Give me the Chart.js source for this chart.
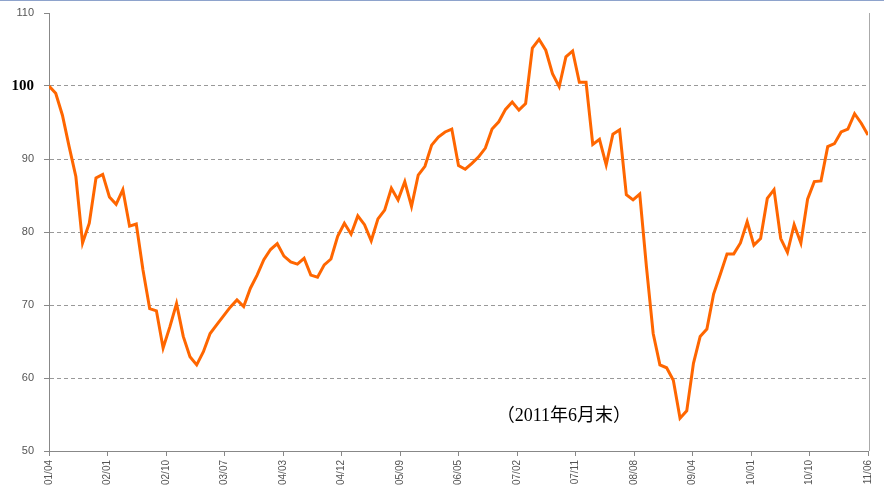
<!DOCTYPE html>
<html>
<head>
<meta charset="utf-8">
<script src="https://cdn.jsdelivr.net/npm/chart.js@4.4.1/dist/chart.umd.min.js"></script>
<style>
	body { margin: 0; background: #ffffff; }
	canvas { display: block; }
</style>
</head>
<body>
<canvas id="chart" width="884" height="492"></canvas>
<script>
// monthly index, 2001/04 = 100, through 2011/06
var indexValues = [
	100, 99.0, 96.0, 91.7, 87.6, 78.5, 81.2, 87.4, 87.9, 84.8,
	83.8, 85.8, 80.8, 81.1, 74.8, 69.5, 69.2, 64.1, 67.0, 70.2,
	65.7, 62.9, 61.8, 63.6, 66.1, 67.3, 68.5, 69.7, 70.7, 69.8,
	72.3, 74.1, 76.2, 77.6, 78.4, 76.7, 75.9, 75.6, 76.4, 74.1,
	73.8, 75.5, 76.3, 79.4, 81.2, 79.7, 82.2, 81.0, 78.8, 81.8,
	83.0, 86.0, 84.4, 86.9, 83.5, 87.8, 89.0, 91.9, 93.0, 93.7,
	94.1, 89.1, 88.6, 89.4, 90.3, 91.5, 94.1, 95.1, 96.8, 97.8,
	96.7, 97.6, 105.2, 106.4, 104.9, 101.7, 99.9, 104.0, 104.8, 100.5,
	100.5, 92.0, 92.7, 89.2, 93.4, 94.0, 85.1, 84.4, 85.2, 75.2,
	66.1, 61.8, 61.4, 59.7, 54.5, 55.5, 62.0, 65.7, 66.7, 71.5,
	74.2, 77.0, 77.0, 78.5, 81.4, 78.2, 79.1, 84.6, 85.8, 79.1,
	77.2, 81.0, 78.5, 84.5, 86.9, 87.0, 91.7, 92.1, 93.7, 94.1,
	96.2, 94.9, 93.3
];
var tickLabels = ["01/04", "02/01", "02/10", "03/07", "04/03", "04/12", "05/09", "06/05",
	"07/02", "07/11", "08/08", "09/04", "10/01", "10/10", "11/06"];
var yMin = 50, yMax = 110, yStep = 10;
var noteText = "（2011年6月末）";
var notePos = { x: 76.7, y: 54.7 };

var lastIndex = indexValues.length - 1;
var points = indexValues.map(function(v, i){ return { x: i, y: v }; });

var framePlugin = {
	id: "frame",
	beforeDraw: function(chart) {
		var ctx = chart.ctx;
		ctx.save();
		ctx.fillStyle = "#ffffff";
		ctx.fillRect(0, 0, chart.width, chart.height);
		ctx.strokeStyle = "#8ea3cc";
		ctx.lineWidth = 1;
		ctx.beginPath();
		ctx.moveTo(0, 0.5);
		ctx.lineTo(chart.width, 0.5);
		ctx.stroke();
		ctx.restore();
	},
	afterDraw: function(chart) {
		var ctx = chart.ctx, a = chart.chartArea;
		ctx.save();
		ctx.strokeStyle = "#aaaaaa";
		ctx.lineWidth = 1;
		ctx.beginPath();
		ctx.moveTo(a.right + 1.5, a.top);
		ctx.lineTo(a.right + 1.5, a.bottom);
		ctx.stroke();
		ctx.restore();
	}
};

var notePlugin = {
	id: "note",
	afterDatasetsDraw: function(chart) {
		var ctx = chart.ctx;
		var x = chart.scales.x.getPixelForValue(notePos.x);
		var y = chart.scales.y.getPixelForValue(notePos.y);
		ctx.save();
		ctx.font = '18px "Liberation Serif", "Noto Sans CJK JP", serif';
		ctx.fillStyle = "#000000";
		ctx.textAlign = "center";
		ctx.textBaseline = "middle";
		ctx.fillText(noteText, x, y);
		ctx.restore();
	}
};

new Chart(document.getElementById("chart"), {
	type: "line",
	data: {
		datasets: [{
			data: points,
			borderColor: "#ff6600",
			borderWidth: 3,
			pointRadius: 0,
			tension: 0,
			fill: false
		}]
	},
	plugins: [framePlugin, notePlugin],
	options: {
		responsive: false,
		devicePixelRatio: 1,
		animation: false,
		layout: { padding: { top: 13, right: 15, left: 0, bottom: 0 } },
		plugins: {
			legend: { display: false },
			tooltip: { enabled: false }
		},
		scales: {
			x: {
				type: "linear",
				min: 0,
				max: lastIndex,
				afterFit: function(scale){ scale.height = 41; },
				afterBuildTicks: function(scale) {
					scale.ticks = tickLabels.map(function(l, k){
						return { value: k * lastIndex / (tickLabels.length - 1) };
					});
				},
				grid: { drawOnChartArea: false, drawTicks: true, tickLength: 5, color: "#888888" },
				border: { display: true, color: "#888888", width: 1 },
				ticks: {
					autoSkip: false,
					minRotation: 90,
					maxRotation: 90,
					padding: 4,
					color: "#555555",
					font: { family: '"Liberation Sans", Arial, sans-serif', size: 10 },
					callback: function(value, index){ return tickLabels[index]; }
				}
			},
			y: {
				min: yMin,
				max: yMax,
				afterFit: function(scale) {
					scale.width = 49;
					scale.paddingTop = 0;
					scale.paddingBottom = 0;
				},
				grid: {
					drawTicks: true,
					tickLength: 5,
					tickColor: "#888888",
					color: function(c) {
						var v = c.tick ? c.tick.value : null;
						return (v === yMin || v === yMax) ? "rgba(0,0,0,0)" : "#999999";
					}
				},
				border: { display: true, color: "#888888", width: 1, dash: [4, 3] },
				ticks: {
					stepSize: yStep,
					padding: 10,
					color: function(c){ return c.tick && c.tick.value === 100 ? "#000000" : "#555555"; },
					font: function(c) {
						if (c.tick && c.tick.value === 100)
							return { family: '"Liberation Serif", serif', size: 15, weight: "bold" };
						return { family: '"Liberation Sans", Arial, sans-serif', size: 11 };
					}
				}
			}
		}
	}
});
</script>
</body>
</html>
